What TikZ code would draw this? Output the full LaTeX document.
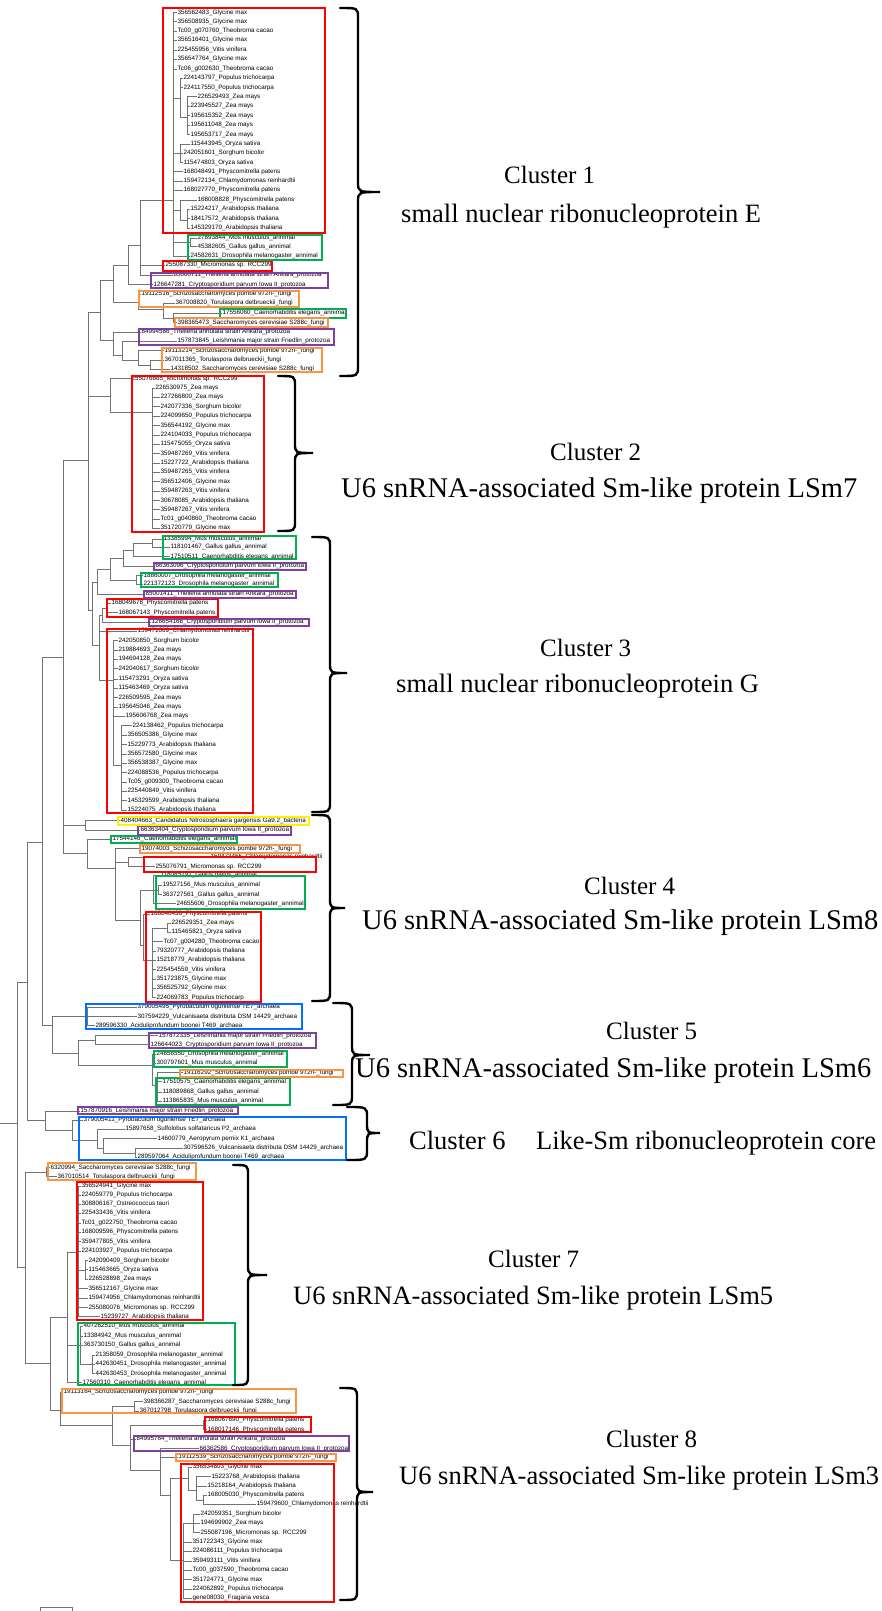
\documentclass[tikz,border=0pt]{standalone}
\usepackage{fontspec}
\setmainfont{Liberation Serif}
\newfontfamily\leaffamily{Liberation Sans}
\usepackage{xcolor}

\definecolor{boxred}{RGB}{255,0,0}
\definecolor{boxgreen}{RGB}{0,176,80}
\definecolor{boxorange}{RGB}{247,150,70}
\definecolor{boxpurple}{RGB}{128,64,160}
\definecolor{boxblue}{RGB}{0,112,255}
\definecolor{boxyellow}{RGB}{255,240,0}

% curly brace: end x, body x, tip x, top y, tip y, bottom y
\newcommand{\clusterbrace}[6]{%
  \draw[clbrace] (#1,#4) .. controls (#2,#4) .. (#2,#4+10)
    -- (#2,#5-10) .. controls (#2,#5) .. (#3,#5)
    .. controls (#2,#5) .. (#2,#5+10)
    -- (#2,#6-10) .. controls (#2,#6) .. (#1,#6);}

\begin{document}
\begin{tikzpicture}[x=1pt, y=-1pt,
        leaf/.style={anchor=west, inner sep=0.5pt, font=\leaffamily\fontsize{6.3}{7}\selectfont},
        branch/.style={draw=black!55, line width=0.9pt},
        cbox/.style={draw=#1, line width=1.8pt},
        clbrace/.style={line width=2.4pt, line cap=round},
        cltext/.style={anchor=west, inner sep=0pt, font=\fontsize{26.5}{30}\selectfont},
        cltextw/.style={cltext, font=\fontsize{28.5}{32}\selectfont},
        clhead/.style={cltext, font=\fontsize{25}{30}\selectfont}
    ]
        \useasboundingbox (0,0) rectangle (882,1611);

        % Leaves
        \foreach \n/\x/\y/\t in {
            s356562483/177/12.7/356562483\_Glycine max,
            s356508935/177/21.7/356508935\_Glycine max,
            sTc00g070760/177/31/Tc00\_g070760\_Theobroma cacao,
            s356516401/177/40.3/356516401\_Glycine max,
            s225455956/177/50/225455956\_Vitis vinifera,
            s356547764/177/59.3/356547764\_Glycine max,
            sTc06g002630/177/69/Tc06\_g002630\_Theobroma cacao,
            s224143797/183/78.3/224143797\_Populus trichocarpa,
            s224117550/183/87.7/224117550\_Populus trichocarpa,
            s226529493/197/96.7/226529493\_Zea mays,
            s223945527/190/106/223945527\_Zea mays,
            s195615352/190/115.7/195615352\_Zea mays,
            s195611048/190/125/195611048\_Zea mays,
            s195653717/190/134.7/195653717\_Zea mays,
            s115443945/190/144/115443945\_Oryza sativa,
            s242051601/183/153.3/242051601\_Sorghum bicolor,
            s115474803/183/162.7/115474803\_Oryza sativa,
            s168048491/183/171.7/168048491\_Physcomitrella patens,
            s159472134/183/181/159472134\_Chlamydomonas reinhardtii,
            s168027770/183/190.3/168027770\_Physcomitrella patens,
            s168008828/197/200/168008828\_Physcomitrella patens,
            s15224217/190/209.3/15224217\_Arabidopsis thaliana,
            s18417572/190/218.7/18417572\_Arabidopsis thaliana,
            s145329170/190/228/145329170\_Arabidopsis thaliana,
            s27893844/197/238/27893844\_Mus musculus\_annimal,
            s45382605/197/246.7/45382605\_Gallus gallus\_annimal,
            s24582631/190/256/24582631\_Drosophila melanogaster\_annimal,
            s255087330/165/265/255087330\_Micromonas sp. RCC299,
            s85000711/173/275.3/85000711\_Theileria annulata strain Ankara\_protozoa,
            s126647281/153/284.7/126647281\_Cryptosporidium parvum Iowa II\_protozoa,
            s19112516/141/294/19112516\_Schizosaccharomyces pombe 972h-\_fungi,
            s367008820/175/303.3/367008820\_Torulaspora delbrueckii\_fungi,
            s17556060/222/313.3/17556060\_Caenorhabditis elegans\_annimal,
            s398365473/177/322.7/398365473\_Saccharomyces cerevisiae S288c\_fungi,
            s84994586/141/332/84994586\_Theileria annulata strain Ankara\_protozoa,
            s157873845/177/341/157873845\_Leishmania major strain Friedlin\_protozoa,
            s19113214/164/350.7/19113214\_Schizosaccharomyces pombe 972h-\_fungi,
            s367011365/164/360/367011365\_Torulaspora delbrueckii\_fungi,
            s14318502/170/369.3/14318502\_Saccharomyces cerevisiae S288c\_fungi,
            s255076665/131/378.7/255076665\_Micromonas sp. RCC299,
            s226530975/155/388/226530975\_Zea mays,
            s227266800/160/397.3/227266800\_Zea mays,
            s242077336/160/406.7/242077336\_Sorghum bicolor,
            s224099650/160/416/224099650\_Populus trichocarpa,
            s356544192/160/425.7/356544192\_Glycine max,
            s224104033/160/435/224104033\_Populus trichocarpa,
            s115475055/160/444.3/115475055\_Oryza sativa,
            s359487269/160/453.7/359487269\_Vitis vinifera,
            s15227722/160/463.3/15227722\_Arabidopsis thaliana,
            s359487265/160/472.3/359487265\_Vitis vinifera,
            s356512406/160/481.7/356512406\_Glycine max,
            s359487263/160/491/359487263\_Vitis vinifera,
            s30678085/160/500.7/30678085\_Arabidopsis thaliana,
            s359487267/160/509.7/359487267\_Vitis vinifera,
            sTc01g040860/160/519/Tc01\_g040860\_Theobroma cacao,
            s351720779/160/528.3/351720779\_Glycine max,
            s13385994/163/539/13385994\_Mus musculus\_annimal,
            s118101467/170/547.3/118101467\_Gallus gallus\_annimal,
            s17510511/170/556.7/17510511\_Caenorhabditis elegans\_annimal,
            s66363096/155/566/66363096\_Cryptosporidium parvum Iowa II\_protozoa,
            s18860007/143/575.7/18860007\_Drosophila melanogaster\_annimal,
            s221372123/143/584.3/221372123\_Drosophila melanogaster\_annimal,
            s85001411/145/594/85001411\_Theileria annulata strain Ankara\_protozoa,
            s168049678/111/603.3/168049678\_Physcomitrella patens,
            s168067143/118/612.7/168067143\_Physcomitrella patens,
            s126654168/151/622/126654168\_Cryptosporidium parvum Iowa II\_protozoa,
            s159471069/137/631.3/159471069\_Chlamydomonas reinhardtii,
            s242050850/118/640.7/242050850\_Sorghum bicolor,
            s219884693/118/650/219884693\_Zea mays,
            s194694128/118/659.3/194694128\_Zea mays,
            s242040617/118/668.7/242040617\_Sorghum bicolor,
            s115473291/118/679/115473291\_Oryza sativa,
            s115463469/118/688.3/115463469\_Oryza sativa,
            s226509595/118/697.7/226509595\_Zea mays,
            s195645046/118/707/195645046\_Zea mays,
            s195606768/125/716.3/195606768\_Zea mays,
            s224138462/132/725.7/224138462\_Populus trichocarpa,
            s356505386/127/735/356505386\_Glycine max,
            s15229773/127/744.7/15229773\_Arabidopsis thaliana,
            s356572580/127/754/356572580\_Glycine max,
            s356538387/127/763.3/356538387\_Glycine max,
            s224088536/127/772.7/224088536\_Populus trichocarpa,
            sTc05g009300/127/782/Tc05\_g009300\_Theobroma cacao,
            s225440849/127/791.3/225440849\_Vitis vinifera,
            s145329599/127/800.7/145329599\_Arabidopsis thaliana,
            s15224075/127/810/15224075\_Arabidopsis thaliana,
            s408404663/120/820.7/408404663\_Candidatus Nitrososphaera gargensis Ga9.2\_bacteria,
            s66363404/140/830/66363404\_Cryptosporidium parvum Iowa II\_protozoa,
            s17544146/112/839.3/17544146\_Caenorhabditis elegans\_annimal,
            s19074003/141/848.7/19074003\_Schizosaccharomyces pombe 972h-\_fungi,
            s159473465/210/857.3/159473465\_Chlamydomonas reinhardtii,
            s255076791/155/866.7/255076791\_Micromonas sp. RCC299,
            s118085191/160/875.3/118085191\_Gallus gallus\_annimal,
            s19527156/162/885/19527156\_Mus musculus\_annimal,
            s363727561/162/894.7/363727561\_Gallus gallus\_annimal,
            s24655606/176/903.7/24655606\_Drosophila melanogaster\_annimal,
            s168040436/150/914/168040436\_Physcomitrella patens,
            s226529351/171/923/226529351\_Zea mays,
            s115465821/171/932/115465821\_Oryza sativa,
            sTc07g004280/163/941.7/Tc07\_g004280\_Theobroma cacao,
            s79320777/156/951/79320777\_Arabidopsis thaliana,
            s15218779/156/960.3/15218779\_Arabidopsis thaliana,
            s225454559/156/969.7/225454559\_Vitis vinifera,
            s351723875/156/979/351723875\_Glycine max,
            s356525792/156/988.3/356525792\_Glycine max,
            s224069783/156/997.7/224069783\_Populus trichocarp,
            s379005495/137/1007/379005495\_Pyrobaculum oguniense TE7\_archaea,
            s307594229/137/1016.7/307594229\_Vulcanisaeta distributa DSM 14429\_archaea,
            s289596330/95/1025.7/289596330\_Aciduliprofundum boonei T469\_archaea,
            s157872335/158/1035.7/157872335\_Leishmania major strain Friedlin\_protozoa,
            s126644023/150/1044.7/126644023\_Cryptosporidium parvum Iowa II\_protozoa,
            s24656550/156/1054/24656550\_Drosophila melanogaster\_annimal,
            s300797601/156/1063/300797601\_Mus musculus\_annimal,
            s19116292/183/1072.7/19116292\_Schizosaccharomyces pombe 972h-\_fungi,
            s17510575/162/1081.7/17510575\_Caenorhabditis elegans\_annimal,
            s118089868/162/1092/118089868\_Gallus gallus\_annimal,
            s113865835/162/1101/113865835\_Mus musculus\_annimal,
            s157870916/80/1111/157870916\_Leishmania major strain Friedlin\_protozoa,
            s379005411/83/1120/379005411\_Pyrobaculum oguniense TE7\_archaea,
            s15897658/125/1129.3/15897658\_Sulfolobus solfataricus P2\_archaea,
            s14600779/157/1138.7/14600779\_Aeropyrum pernix K1\_archaea,
            s307596526/183/1148.3/307596526\_Vulcanisaeta distributa DSM 14429\_archaea,
            s289597064/137/1157.3/289597064\_Aciduliprofundum boonei T469\_archaea,
            s6320994/50/1167.7/6320994\_Saccharomyces cerevisiae S288c\_fungi,
            s367010514/57/1176.7/367010514\_Torulaspora delbrueckii\_fungi,
            s356524941/81/1186/356524941\_Glycine max,
            s224059779/81/1195/224059779\_Populus trichocarpa,
            s308806167/81/1204.3/308806167\_Ostreococcus tauri,
            s225433436/81/1213.3/225433436\_Vitis vinifera,
            sTc01g022750/81/1223/Tc01\_g022750\_Theobroma cacao,
            s168009596/81/1232.3/168009596\_Physcomitrella patens,
            s359477805/81/1241.7/359477805\_Vitis vinifera,
            s224103927/81/1251/224103927\_Populus trichocarpa,
            s242090409/88/1260.7/242090409\_Sorghum bicolor,
            s115463665/88/1269.7/115463665\_Oryza sativa,
            s226528898/88/1279.3/226528898\_Zea mays,
            s356512167/88/1288.7/356512167\_Glycine max,
            s159474956/88/1298.3/159474956\_Chlamydomonas reinhardtii,
            s255080076/88/1307.7/255080076\_Micromonas sp. RCC299,
            s15239727/100/1316.7/15239727\_Arabidopsis thaliana,
            s407262510/83/1326.3/407262510\_Mus musculus\_annimal,
            s13384942/83/1336/13384942\_Mus musculus\_annimal,
            s363730150/83/1345/363730150\_Gallus gallus\_annimal,
            s21358059/95/1355/21358059\_Drosophila melanogaster\_annimal,
            s442630451/95/1364/442630451\_Drosophila melanogaster\_annimal,
            s442630453/95/1373.7/442630453\_Drosophila melanogaster\_annimal,
            s17560310/82/1382.7/17560310\_Caenorhabditis elegans\_annimal,
            s19113164/63/1392.3/19113164\_Schizosaccharomyces pombe 972h-\_fungi,
            s398366287/143/1401.7/398366287\_Saccharomyces cerevisiae S288c\_fungi,
            s367012798/139/1411/367012798\_Torulaspora delbrueckii\_fungi,
            s168067690/207/1420.3/168067690\_Physcomitrella patens,
            s168017146/207/1429.7/168017146\_Physcomitrella patens,
            s84995764/136/1439/84995764\_Theileria annulata strain Ankara\_protozoa,
            s66362586/199/1448.7/66362586\_Cryptosporidium parvum Iowa II\_protozoa,
            s19112539/178/1457.3/19112539\_Schizosaccharomyces pombe 972h-\_fungi,
            s356534803/192/1467.3/356534803\_Glycine max,
            s15223768/211/1476.7/15223768\_Arabidopsis thaliana,
            s15218164/207/1486/15218164\_Arabidopsis thaliana,
            s168005030/207/1495/168005030\_Physcomitrella patens,
            s159479600/256/1504.3/159479600\_Chlamydomonas reinhardtii,
            s242059351/200/1514/242059351\_Sorghum bicolor,
            s194699902/200/1523.3/194699902\_Zea mays,
            s255087196/200/1532.7/255087196\_Micromonas sp. RCC299,
            s351722343/192/1542.3/351722343\_Glycine max,
            s224086111/192/1551.3/224086111\_Populus trichocarpa,
            s359493111/192/1561/359493111\_Vitis vinifera,
            sTc00g037590/192/1570.3/Tc00\_g037590\_Theobroma cacao,
            s351724771/192/1579.7/351724771\_Glycine max,
            s224062892/192/1589/224062892\_Populus trichocarpa,
            sgene08030/192/1598.3/gene08030\_Fragaria vesca}
            \node[leaf] (\n) at (\x,\y) {\t};

        % Inner nodes of the tree
        \foreach \n/\x/\y in {R0/0/1123, R/17/1123, U/27/982, L/25/1267, U1/42/842, NA/63/657, N123/88/460,
            N1/100/312, N1u/113/280, N1a/128/265, N1b/140/245, C1core/173/200, C1a/180/98, C1b/187/117,
            C1c/180/153, C1d/180/210, C1e/187/220, C1g/190/242, Nor1/138/302, Nor2/163/309, Nor3/173/318,
            N1l/113/340, N1m/122/355, N1n/138/360, N1o/150/365,
            N2/110/396, N2a/152/412,
            N3/92/610, N3t/97/582, N3a/110/569, G3c/123/558, G3b/133/550, G3a/152/543, G3d/136/580,
            N3b/99/645, N3h/102/615, N3g/106/608, N3i/113/680, N3k/121/765,
            Nyp/85/825, N4/87/853, N4a/115/868, N4d/128/862, N4c/140/920, G4/153/890, G4a/158/890,
            R4/143/945, R4a/152/960, R4b/167/928,
            N5/52/1025, B5/87/1016, N5b/78/1053, P5/95/1040, N5d/152/1065, N5e/157/1085,
            C6/45/1120, A6/72/1130, A6a/97/1140, A6b/103/1148, A6c/135/1153,
            O7/46/1172, L2/50/1363, C7/67/1317, R7/78/1252, R7a/85/1270, G7a/80/1345, D7/92/1364,
            C8/60/1410, C8a/112/1425, O8/134/1406, C8b/130/1445, P8/203/1425, C8c/160/1470, C8d/170/1495,
            R8a/188/1478, R8d/196/1490, R8g/203/1500, R8b/183/1560, R8e/193/1523}
            \coordinate (\n) at (\x,\y);

        % Branches
        \draw[branch] (R0) -- (R);
        \foreach \p/\cs in {
            R/{U,L}, U/{U1,C6}, U1/{NA,N5}, NA/{N123,Nyp,N4}, N123/{N1,N2,N3},
            N1/{N1u,N1l}, N1u/{N1a,Nor1}, N1a/{N1b,s126647281}, N1b/{C1core,s255087330,s85000711},
            C1core/{s356562483,s356508935,sTc00g070760,s356516401,s225455956,s356547764,sTc06g002630,
                C1a,C1c,s168048491,s159472134,s168027770,C1d,C1g,s24582631},
            C1a/{s224143797,s224117550,C1b},
            C1b/{s226529493,s223945527,s195615352,s195611048,s195653717},
            C1c/{s115443945,s242051601,s115474803},
            C1d/{s168008828,C1e}, C1e/{s15224217,s18417572,s145329170},
            C1g/{s27893844,s45382605},
            Nor1/{s19112516,Nor2}, Nor2/{s367008820,Nor3}, Nor3/{s17556060,s398365473},
            N1l/{s84994586,N1m}, N1m/{s157873845,N1n}, N1n/{s19113214,N1o}, N1o/{s367011365,s14318502},
            N2/{s255076665,N2a},
            N2a/{s226530975,s227266800,s242077336,s224099650,s356544192,s224104033,s115475055,s359487269,
                s15227722,s359487265,s356512406,s359487263,s30678085,s359487267,sTc01g040860,s351720779},
            N3/{N3t,N3b}, N3t/{N3a,s85001411}, N3a/{G3c,G3d}, G3c/{G3b,s66363096}, G3b/{G3a,s17510511},
            G3a/{s13385994,s118101467}, G3d/{s18860007,s221372123},
            N3b/{N3h,s159471069,N3i}, N3h/{N3g,s126654168}, N3g/{s168049678,s168067143},
            N3i/{s242050850,s219884693,s194694128,s242040617,s115473291,s115463469,s226509595,s195645046,
                s195606768,N3k},
            N3k/{s224138462,s356505386,s15229773,s356572580,s356538387,s224088536,sTc05g009300,s225440849,
                s145329599,s15224075},
            Nyp/{s408404663,s66363404}, N4/{s17544146,N4a}, N4a/{s19074003,N4d,N4c},
            N4d/{s159473465,s255076791}, N4c/{G4,R4}, G4/{s118085191,G4a,s24655606},
            G4a/{s19527156,s363727561}, R4/{s168040436,R4a},
            R4a/{R4b,sTc07g004280,s79320777,s15218779,s225454559,s351723875,s356525792,s224069783},
            R4b/{s226529351,s115465821},
            N5/{B5,N5b}, B5/{s379005495,s307594229,s289596330}, N5b/{P5,N5d}, P5/{s157872335,s126644023},
            N5d/{s24656550,s300797601,N5e}, N5e/{s19116292,s17510575,s118089868,s113865835},
            C6/{s157870916,A6}, A6/{s379005411,A6a}, A6a/{s15897658,A6b}, A6b/{s14600779,A6c},
            A6c/{s307596526,s289597064},
            L/{O7,L2}, O7/{s6320994,s367010514}, L2/{C7,C8}, C7/{R7,G7a,s17560310},
            R7/{s356524941,s224059779,s308806167,s225433436,sTc01g022750,s168009596,s359477805,s224103927,
                R7a,s356512167,s159474956,s255080076,s15239727},
            R7a/{s242090409,s115463665,s226528898},
            G7a/{s407262510,s13384942,s363730150,D7}, D7/{s21358059,s442630451,s442630453},
            C8/{s19113164,C8a}, C8a/{O8,C8b}, O8/{s398366287,s367012798}, C8b/{P8,s84995764,C8c},
            P8/{s168067690,s168017146}, C8c/{s66362586,s19112539,C8d}, C8d/{R8a,R8b},
            R8a/{s356534803,R8d}, R8d/{s15223768,s15218164,R8g}, R8g/{s168005030,s159479600},
            R8b/{R8e,s351722343,s224086111,s359493111,sTc00g037590,s351724771,s224062892,sgene08030},
            R8e/{s242059351,s194699902,s255087196}}
            {\foreach \c in \cs {\draw[branch] (\p) |- (\c);}}

        % Coloured boxes round the groups
        \foreach \c/\xa/\ya/\xb/\yb in {
            boxred/163/8/325/233, boxred/163/261/272/271, boxred/132/376/264/532,
            boxred/107/599/218/617, boxred/107/629/253/813, boxred/144/857/316/872,
            boxred/146/912/261/1002, boxred/77/1182/203/1320, boxred/205/1417/311/1432,
            boxred/181/1464/334/1602,
            boxgreen/188/235/322/260, boxgreen/220/309/346/318, boxgreen/163/536/296/559,
            boxgreen/141/573/278/587, boxgreen/111/836/237/843, boxgreen/156/876/305/909,
            boxgreen/154/1051/287/1067, boxgreen/156/1078/290/1105, boxgreen/78/1323/235/1385,
            boxorange/139/291/299/307, boxorange/175/318/328/327, boxorange/162/348/322/372,
            boxorange/140/845/300/853, boxorange/180/1070/343/1077, boxorange/48/1163/196/1180,
            boxorange/62/1389/296/1413, boxorange/176/1454/336/1461,
            boxpurple/151/273/328/288, boxpurple/139/329/334/345, boxpurple/154/563/306/570,
            boxpurple/144/591/296/598, boxpurple/149/619/309/626, boxpurple/138/826/291/835,
            boxpurple/149/1033/316/1048, boxpurple/78/1107/238/1114, boxpurple/134/1436/349/1451,
            boxyellow/118/817/309/825,
            boxblue/86/1004/302/1029, boxblue/79/1117/346/1160}
            \draw[cbox=\c] (\xa,\ya) rectangle (\xb,\yb);

        % Braces
        \clusterbrace{340}{358}{380}{8}{192}{376}
        \clusterbrace{278}{295}{313}{376}{453}{531}
        \clusterbrace{312}{330}{347}{537}{673}{812}
        \clusterbrace{312}{330}{345}{815}{908}{1001}
        \clusterbrace{333}{352}{370}{1003}{1055}{1105}
        \clusterbrace{347}{367}{380}{1107}{1133}{1160}
        \clusterbrace{233}{248}{267}{1165}{1275}{1385}
        \clusterbrace{340}{357}{373}{1388}{1492}{1600}

        % Cluster labels
        \node[clhead] (c1a) at (504,175) {Cluster 1};
        \node[cltext] (c1b) at (401,216) {small nuclear ribonucleoprotein E};
        \node[clhead] (c2a) at (550,452) {Cluster 2};
        \node[cltextw] (c2b) at (341,491) {U6 snRNA-associated Sm-like protein LSm7};
        \node[clhead] (c3a) at (540,648) {Cluster 3};
        \node[cltext] (c3b) at (396,686) {small nuclear ribonucleoprotein G};
        \node[clhead] (c4a) at (584,886) {Cluster 4};
        \node[cltextw] (c4b) at (362,923) {U6 snRNA-associated Sm-like protein LSm8};
        \node[clhead] (c5a) at (606,1031) {Cluster 5};
        \node[cltextw] (c5b) at (355,1071) {U6 snRNA-associated Sm-like protein LSm6};
        \node[cltext] (c6a) at (409,1143) {Cluster 6\hspace{0.9em} Like-Sm ribonucleoprotein core};
        \node[clhead] (c7a) at (488,1259) {Cluster 7};
        \node[cltext] (c7b) at (293,1298) {U6 snRNA-associated Sm-like protein LSm5};
        \node[clhead] (c8a) at (606,1439) {Cluster 8};
        \node[cltext] (c8b) at (399,1478) {U6 snRNA-associated Sm-like protein LSm3};

        % Scale bar
        \draw[branch] (40,1611) -- (40,1607) -- (72,1607) -- (72,1611);
\end{tikzpicture}
\end{document}
